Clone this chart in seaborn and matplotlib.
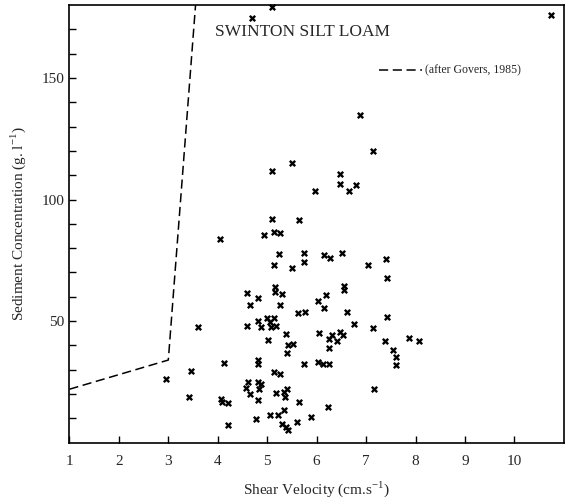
import matplotlib
matplotlib.use("Agg")
import matplotlib.pyplot as plt
import seaborn as sns
import pandas as pd

# shear velocity (cm/s) and sediment concentration (g/l)
shear = [5.09, 4.70, 5.10, 5.51, 5.10, 5.64, 10.73, 6.87, 7.14, 6.48, 6.48, 6.65, 6.80, 5.96,
         4.94, 5.13, 5.25, 5.23, 5.75, 5.75, 5.13, 5.50, 6.15, 6.28, 6.51, 7.04, 7.41, 7.42,
         4.60, 4.66, 4.82, 5.15, 5.15, 5.29, 5.26, 6.18, 6.02, 6.14, 6.56, 6.56, 5.63, 5.76,
         6.62, 6.75, 7.14, 7.43, 4.59, 4.81, 4.88, 5.00, 5.05, 5.13, 5.08, 5.17, 5.02, 5.39,
         5.43, 5.53, 5.41, 6.04, 6.25, 6.31, 6.41, 6.48, 6.53, 6.25, 7.39, 7.87, 7.55, 7.60,
         7.60, 4.81, 4.81, 5.75, 6.03, 6.13, 6.25, 5.13, 5.26, 4.61, 4.57, 4.66, 4.81, 4.88,
         4.83, 4.82, 5.17, 5.33, 5.40, 5.37, 5.65, 6.22, 7.15, 4.77, 5.06, 5.21, 5.33, 5.29,
         5.39, 5.43, 5.61, 5.88, 8.07, 4.05, 3.61, 4.12, 3.45, 2.96, 3.41, 4.07, 4.08, 4.21,
         4.21]
conc = [179.0, 174.7, 111.9, 115.0, 91.9, 91.4, 176.0, 134.9, 119.9, 110.7, 106.5, 103.5, 105.8, 103.5,
        85.4, 86.7, 86.2, 77.8, 78.2, 74.5, 72.9, 71.9, 77.0, 76.0, 78.0, 73.0, 75.6, 67.8,
        61.5, 56.8, 59.6, 64.0, 62.1, 61.0, 56.8, 60.6, 58.2, 55.2, 64.4, 62.6, 53.4, 53.7,
        53.7, 48.9, 47.3, 51.7, 48.0, 50.0, 47.6, 51.4, 49.7, 51.4, 47.6, 48.0, 42.3, 44.8,
        40.2, 40.8, 37.0, 45.3, 42.5, 44.3, 42.0, 45.5, 44.5, 39.0, 42.0, 43.2, 38.1, 35.2,
        31.8, 34.2, 32.5, 32.5, 33.3, 32.2, 32.2, 29.2, 28.1, 24.9, 22.3, 19.9, 25.1, 24.2,
        22.1, 17.7, 20.6, 21.0, 22.1, 18.9, 16.9, 14.8, 22.2, 9.6, 11.6, 11.6, 13.3, 7.8,
        6.4, 5.3, 8.6, 10.6, 42.0, 83.6, 47.7, 32.9, 29.5, 26.3, 18.9, 18.1, 16.7, 16.4,
        7.3]

# Govers (1985) limit line
govers_x = [1.0, 3.0, 3.57]
govers_y = [22.0, 34.0, 185.0]

x_ticks = [1, 2, 3, 4, 5, 6, 7, 8, 9, 10]
y_ticks = [50, 100, 150]

sns.set_style("ticks")
plt.rcParams['font.family'] = ['Liberation Serif', 'DejaVu Serif']
plt.rcParams['mathtext.fontset'] = 'custom'
plt.rcParams['mathtext.rm'] = 'Liberation Serif'

fig = plt.figure(figsize=(5.69, 4.98), dpi=100)
ax = fig.add_axes([0.122, 0.111, 0.869, 0.879])

pts = pd.DataFrame({'shear': shear, 'conc': conc})
gov = pd.DataFrame({'x': govers_x, 'y': govers_y})

sns.lineplot(data=gov, x='x', y='y', sort=False, ax=ax, color='black',
             linewidth=1.1, linestyle=(0, (6, 3)), label='(after Govers, 1985)')
sns.scatterplot(data=pts, x='shear', y='conc', ax=ax, marker='x', color='black',
                s=15, linewidth=1.7, clip_on=False, zorder=3)

ax.set_xlim(1, 11)
ax.set_ylim(0, 180)
ax.set_xticks(x_ticks)
ax.set_yticks(y_ticks)
ax.set_yticks(range(10, 180, 10), minor=True)
ax.tick_params(axis='both', which='both', direction='in', labelsize=11, color='black')
ax.tick_params(axis='both', which='major', length=5, width=1)
ax.tick_params(axis='y', which='minor', length=5, width=1)
ax.tick_params(axis='x', pad=9)
for s in ax.spines.values():
    s.set_color('black')
    s.set_linewidth(1.2)

ax.set_xlabel('Shear Velocity (cm.s$^{-1}$)', fontsize=11, labelpad=8)
ax.set_ylabel('Sediment Concentration (g. l$^{-1}$)', fontsize=11, labelpad=10)
ax.text(5.72, 169, 'SWINTON SILT LOAM', fontsize=12.5, ha='center', va='center')

ax.legend(loc='center left', bbox_to_anchor=(0.605, 0.85), frameon=False,
          fontsize=8.5, handlelength=3.6, handletextpad=0.3)

fig.savefig('out.png', dpi=100)
